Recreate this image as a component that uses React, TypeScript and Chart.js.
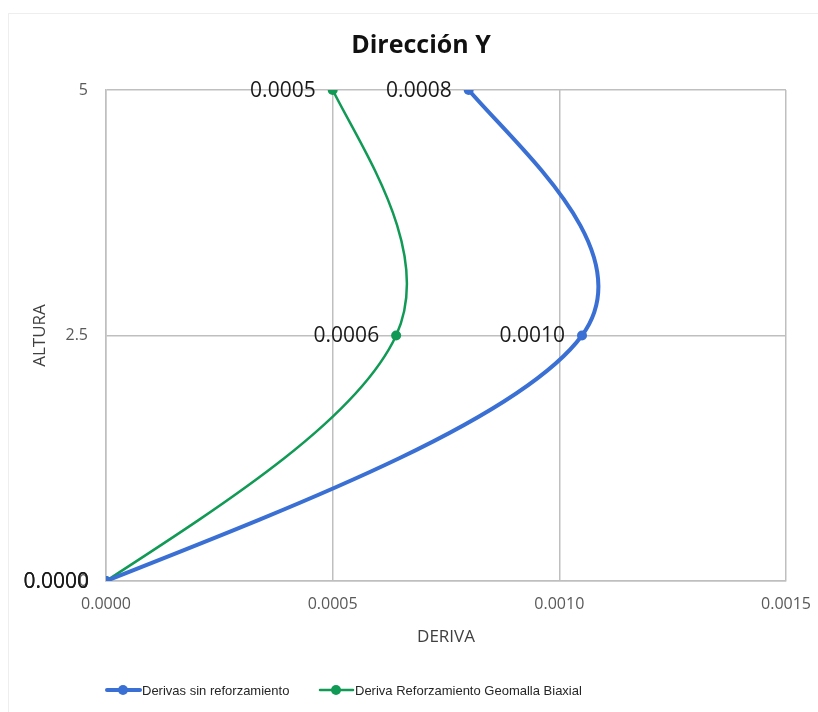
import { useEffect, useRef } from "react";
import { Chart, registerables } from "chart.js";

Chart.register(...registerables);

const alturas = [0, 2.5, 5];
const derivasSinRefuerzo = [0, 0.00105, 0.0008];
const derivasGeomalla = [0, 0.00064, 0.0005];
const etiquetasSinRefuerzo = ["0.0000", "0.0010", "0.0008"];
const etiquetasGeomalla = ["0.0000", "0.0006", "0.0005"];
const serieNombres = ["Derivas sin reforzamiento", "Deriva Reforzamiento Geomalla Biaxial"];
const titulo = "Dirección Y";
const tituloX = "DERIVA";
const tituloY = "ALTURA";

const AZUL = "#3A6FD4";
const VERDE = "#119A55";
const FONT = "'Open Sans', 'DejaVu Sans', sans-serif";
const LEGEND_FONT = "'Liberation Sans', Arial, sans-serif";

// Excel-like smoothing: Catmull-Rom (1/6) inner tangents, softened ends
function excelSmooth(points: any[]) {
  const n = points.length;
  if (n < 3) return;
  const k = 1 / 6;
  for (let i = 1; i < n - 1; i++) {
    const p0 = points[i - 1];
    const p2 = points[i + 1];
    const p = points[i];
    const dx = (p2.x - p0.x) * k;
    const dy = (p2.y - p0.y) * k;
    p.cp1x = p.x - dx;
    p.cp1y = p.y - dy;
    p.cp2x = p.x + dx;
    p.cp2y = p.y + dy;
  }
  const first = points[0];
  const second = points[1];
  first.cp2x = (first.x + second.cp1x) / 2;
  first.cp2y = (first.y + second.cp1y) / 2;
  first.cp1x = first.x;
  first.cp1y = first.y;
  const last = points[n - 1];
  const prev = points[n - 2];
  const natX = (last.x + prev.cp2x) / 2;
  const natY = (last.y + prev.cp2y) / 2;
  const crX = last.x - (last.x - prev.x) * k;
  const crY = last.y - (last.y - prev.y) * k;
  last.cp1x = (natX + crX) / 2;
  last.cp1y = (natY + crY) / 2;
  last.cp2x = last.x;
  last.cp2y = last.y;
}

export default function App() {
  const ref = useRef<HTMLCanvasElement | null>(null);

  useEffect(() => {
    document.body.style.margin = "0";
    const canvas = ref.current!;
    const labelsByDataset = [etiquetasSinRefuerzo, etiquetasGeomalla];

    const overlay = {
      id: "overlay",
      beforeDraw(chart: any) {
        const ctx = chart.ctx;
        ctx.save();
        ctx.fillStyle = "#ffffff";
        ctx.fillRect(0, 0, chart.width, chart.height);
        ctx.strokeStyle = "#eeeeee";
        ctx.lineWidth = 1;
        ctx.strokeRect(8.5, 13.5, 830, 720);
        ctx.restore();
      },
      beforeDatasetDraw(chart: any, args: any) {
        const meta = chart.getDatasetMeta(args.index);
        const line = meta.dataset;
        if (line && line.updateControlPoints) {
          line.updateControlPoints(chart.chartArea, "x");
        }
        excelSmooth(meta.data);
      },
      afterDatasetsDraw(chart: any) {
        const ctx = chart.ctx;
        const area = chart.chartArea;
        ctx.save();
        // Title
        ctx.fillStyle = "#111111";
        ctx.font = `bold 25px ${FONT}`;
        ctx.textAlign = "center";
        ctx.textBaseline = "middle";
        ctx.fillText(titulo, 421, 46);
        // Axis titles
        ctx.fillStyle = "#404040";
        ctx.font = `17px ${FONT}`;
        ctx.fillText(tituloX, (area.left + area.right) / 2, 637);
        ctx.save();
        ctx.translate(40, (area.top + area.bottom) / 2);
        ctx.rotate(-Math.PI / 2);
        ctx.fillText(tituloY, 0, 0);
        ctx.restore();
        // Data labels
        ctx.font = `21px ${FONT}`;
        ctx.fillStyle = "#1a1a1a";
        ctx.textAlign = "right";
        ctx.textBaseline = "middle";
        chart.data.datasets.forEach((ds: any, i: number) => {
          const meta = chart.getDatasetMeta(i);
          meta.data.forEach((pt: any, j: number) => {
            ctx.fillText(labelsByDataset[i][j], pt.x - 17, pt.y + 1);
          });
        });
        // Legend
        const ly = 690;
        const items = [
          { x: 107, color: AZUL, lw: 4, text: serieNombres[0] },
          { x: 320, color: VERDE, lw: 2.5, text: serieNombres[1] },
        ];
        ctx.font = `13px ${LEGEND_FONT}`;
        ctx.textAlign = "left";
        items.forEach((it) => {
          ctx.strokeStyle = it.color;
          ctx.lineWidth = it.lw;
          ctx.lineCap = "round";
          ctx.beginPath();
          ctx.moveTo(it.x, ly);
          ctx.lineTo(it.x + 33, ly);
          ctx.stroke();
          ctx.fillStyle = it.color;
          ctx.beginPath();
          ctx.arc(it.x + 16, ly, 5, 0, Math.PI * 2);
          ctx.fill();
          ctx.fillStyle = "#262626";
          ctx.fillText(it.text, it.x + 35, ly + 1);
        });
        ctx.restore();
      },
    };

    const chart = new Chart(canvas, {
      type: "scatter",
      data: {
        datasets: [
          {
            label: serieNombres[0],
            data: derivasSinRefuerzo.map((x, i) => ({ x, y: alturas[i] })),
            showLine: true,
            borderColor: AZUL,
            backgroundColor: AZUL,
            borderWidth: 4,
            pointRadius: 5,
            pointBorderWidth: 0,
            tension: 0.4,
          },
          {
            label: serieNombres[1],
            data: derivasGeomalla.map((x, i) => ({ x, y: alturas[i] })),
            showLine: true,
            borderColor: VERDE,
            backgroundColor: VERDE,
            borderWidth: 2.5,
            pointRadius: 5,
            pointBorderWidth: 0,
            tension: 0.4,
          },
        ],
      },
      options: {
        animation: false,
        responsive: false,
        devicePixelRatio: 1,
        layout: { padding: { left: 0, right: 32, top: 90, bottom: 0 } },
        plugins: {
          legend: { display: false },
          title: { display: false },
          tooltip: { enabled: false },
        },
        scales: {
          x: {
            type: "linear",
            min: 0,
            max: 0.0015,
            ticks: {
              stepSize: 0.0005,
              padding: 14,
              color: "#595959",
              font: { family: FONT, size: 16 },
              callback: (v: any) => Number(v).toFixed(4),
            },
            grid: { color: "#bfbfbf", lineWidth: 1.5, drawTicks: false },
            border: { display: true, color: "#bfbfbf", width: 1.5 },
            afterFit: (s: any) => {
              s.height = 712 - 581;
              s.paddingLeft = 0;
              s.paddingRight = 0;
            },
          },
          y: {
            type: "linear",
            min: 0,
            max: 5,
            ticks: {
              stepSize: 2.5,
              padding: 18,
              color: "#595959",
              font: { family: FONT, size: 16 },
              callback: (v: any) => String(v),
            },
            grid: { color: "#bfbfbf", lineWidth: 1.5, drawTicks: false },
            border: { display: true, color: "#bfbfbf", width: 1.5 },
            afterFit: (s: any) => {
              s.width = 106;
              s.paddingTop = 0;
              s.paddingBottom = 0;
            },
          },
        },
      },
      plugins: [overlay],
    } as any);

    return () => chart.destroy();
  }, []);

  return <canvas ref={ref} width={818} height={712} style={{ display: "block" }} />;
}
